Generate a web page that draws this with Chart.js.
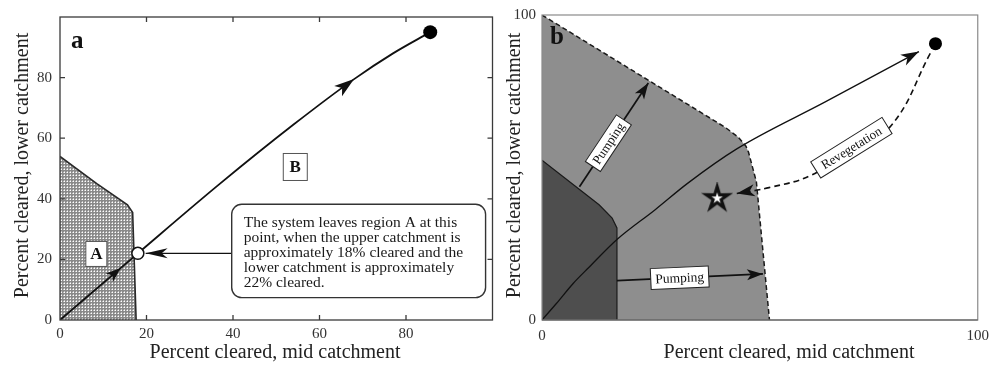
<!DOCTYPE html>
<html>
<head>
<meta charset="utf-8">
<title>Catchment clearing trajectories</title>
<script src="https://cdn.jsdelivr.net/npm/chart.js@4.4.1/dist/chart.umd.min.js"></script>
<style>
  html, body { margin: 0; padding: 0; background: #fff; }
  #stage { position: relative; width: 996px; height: 369px; overflow: hidden; }
  #stage canvas { position: absolute; top: 0; }
  #panelA { left: 0; }
  #panelB { left: 500px; }
</style>
</head>
<body>
<div id="stage">
  <canvas id="panelA" width="500" height="369"></canvas>
  <canvas id="panelB" width="496" height="369"></canvas>
</div>
<script>
const SERIF = "'Liberation Serif', 'Times New Roman', serif";

// ---------- Panel a: percent cleared, mid vs lower catchment ----------
const ticksA = [0, 20, 40, 60, 80];
const regionAX = [0, 8.5, 15.6, 16.8, 17.6];
const regionAY = [54, 45, 38, 35.5, 0];
const pathAX = [0, 18, 37, 54, 68, 77, 85.6];
const pathAY = [0, 22, 45, 64.5, 79.5, 88, 95];
const exitA = [18, 22];
const endA = [85.6, 95];
const calloutX = [39.7, 19.8];
const calloutY = [22, 22];
const calloutLines = [
  'The system leaves region A at this',
  'point, when the upper catchment is',
  'approximately 18% cleared and the',
  'lower catchment is approximately',
  '22% cleared.'
];

// ---------- Panel b ----------
const ticksB = [0, 100];
const outerX = [0, 42, 45, 46.8, 47.4, 49.2, 52.2];
const outerY = [100, 63.2, 60, 57, 55, 45.3, 0];
const innerX = [0, 13.1, 16.1, 17.2, 17.2];
const innerY = [52.4, 37.8, 33.4, 30.2, 0];
const pathBX = [0, 3.3, 7.1, 10.8, 17.2, 25.9, 33.4, 44.7, 65, 86.5];
const pathBY = [0, 5.4, 11.9, 17.3, 26.4, 36.1, 44.8, 56.1, 71.5, 88];
const endB = [90.3, 90.6];
const starB = [40.2, 39.9];
const pumpUpX = [8.6, 24.4];
const pumpUpY = [43.7, 77.7];
const pumpRightX = [17.2, 50.7];
const pumpRightY = [12.9, 15.1];
const revegX = [89.1, 80.1, 71, 62, 52.1, 44.7];
const revegY = [87.4, 63.7, 56.5, 47.6, 43.4, 41.5];

const pts = (xs, ys) => xs.map((x, i) => ({ x, y: ys[i] }));

// fine cross-hatch used for region A
function hatchPattern(ctx) {
  const t = document.createElement('canvas');
  t.width = 3; t.height = 3;
  const g = t.getContext('2d');
  g.fillStyle = '#8a8a8a'; g.fillRect(0, 0, 3, 3);
  g.fillStyle = '#c4c4c4'; g.fillRect(0, 1, 1, 1); g.fillRect(1, 0, 1, 1);
  g.fillStyle = '#ffffff'; g.fillRect(1, 1, 1, 1);
  return ctx.createPattern(t, 'repeat');
}

// hollow five-pointed star used as a point style
function starImage(R, r, lw) {
  const s = Math.ceil(2 * R + lw * 2 + 2);
  const c = document.createElement('canvas');
  c.width = c.height = s;
  const g = c.getContext('2d');
  g.translate(s / 2, s / 2);
  g.beginPath();
  for (let k = 0; k < 10; k++) {
    const rad = k % 2 ? r : R;
    const a = -Math.PI / 2 + k * Math.PI / 5;
    g.lineTo(rad * Math.cos(a), rad * Math.sin(a));
  }
  g.closePath();
  g.fillStyle = '#fff'; g.fill();
  g.lineWidth = lw; g.lineJoin = 'miter'; g.strokeStyle = '#111'; g.stroke();
  return c;
}

function head(ctx, x, y, ang, s) {
  ctx.save();
  ctx.translate(x, y);
  ctx.rotate(ang);
  ctx.beginPath();
  ctx.moveTo(0, 0);
  ctx.lineTo(-s.len, -s.half);
  ctx.lineTo(-s.len + s.notch, 0);
  ctx.lineTo(-s.len, s.half);
  ctx.closePath();
  ctx.fillStyle = '#111';
  ctx.fill();
  ctx.restore();
}

function upright(a) {
  if (a > Math.PI / 2) a -= Math.PI;
  if (a < -Math.PI / 2) a += Math.PI;
  return a;
}

function tagBox(ctx, cx, cy, ang, t) {
  ctx.save();
  ctx.translate(cx, cy);
  ctx.rotate(ang);
  ctx.fillStyle = '#fff';
  ctx.strokeStyle = '#222';
  ctx.lineWidth = 1;
  ctx.fillRect(-t.w / 2, -t.h / 2, t.w, t.h);
  ctx.strokeRect(-t.w / 2, -t.h / 2, t.w, t.h);
  ctx.fillStyle = '#111';
  ctx.font = t.font;
  ctx.textAlign = 'center';
  ctx.textBaseline = 'middle';
  ctx.fillText(t.text, 0, 1);
  ctx.restore();
}

function roundRect(ctx, x, y, w, h, r) {
  ctx.beginPath();
  ctx.moveTo(x + r, y);
  ctx.arcTo(x + w, y, x + w, y + h, r);
  ctx.arcTo(x + w, y + h, x, y + h, r);
  ctx.arcTo(x, y + h, x, y, r);
  ctx.arcTo(x, y, x + w, y, r);
  ctx.closePath();
}

const decor = {
  id: 'decor',
  afterDatasetsDraw(chart, args, o) {
    const ctx = chart.ctx, ca = chart.chartArea;
    const xs = chart.scales.x, ys = chart.scales.y;
    const px = v => xs.getPixelForValue(v), py = v => ys.getPixelForValue(v);

    // frame and inward ticks
    ctx.save();
    ctx.lineWidth = o.frame.width;
    ctx.strokeStyle = o.frame.color;
    ctx.strokeRect(ca.left, ca.top, ca.right - ca.left, ca.bottom - ca.top);
    if (o.frame.bottom) {
      ctx.strokeStyle = o.frame.bottom;
      ctx.beginPath(); ctx.moveTo(ca.left, ca.bottom); ctx.lineTo(ca.right, ca.bottom); ctx.stroke();
    }
    if (o.innerTicks) {
      const L = o.innerTicks.len;
      ctx.strokeStyle = o.frame.color;
      ctx.beginPath();
      o.innerTicks.values.forEach(v => {
        if (v <= 0) return;
        const x = px(v), y = py(v);
        ctx.moveTo(x, ca.bottom); ctx.lineTo(x, ca.bottom - L);
        ctx.moveTo(x, ca.top); ctx.lineTo(x, ca.top + L);
        ctx.moveTo(ca.left, y); ctx.lineTo(ca.left + L, y);
        ctx.moveTo(ca.right, y); ctx.lineTo(ca.right - L, y);
      });
      ctx.stroke();
    }
    ctx.restore();

    // arrowheads and along-line tags
    chart.data.datasets.forEach((ds, i) => {
      const p = chart.getDatasetMeta(i).data;
      if (ds.arrowEnd) {
        const b = p[p.length - 1];
        let ax = p[p.length - 2].x, ay = p[p.length - 2].y;
        if (b.cp1x !== undefined && Math.hypot(b.x - b.cp1x, b.y - b.cp1y) > 0.5) { ax = b.cp1x; ay = b.cp1y; }
        head(ctx, b.x, b.y, Math.atan2(b.y - ay, b.x - ax), ds.arrowEnd);
      }
      (ds.arrowMarks || []).forEach(m => {
        const a = p[m.seg], b = p[m.seg + 1];
        const x = a.x + (b.x - a.x) * m.t, y = a.y + (b.y - a.y) * m.t;
        head(ctx, x, y, Math.atan2(b.y - a.y, b.x - a.x), m);
      });
      if (ds.tag) {
        const t = ds.tag;
        let cx, cy, ang;
        if (t.at !== undefined) {
          const a = p[t.at - 1], b = p[t.at + 1];
          cx = p[t.at].x; cy = p[t.at].y;
          ang = Math.atan2(b.y - a.y, b.x - a.x);
        } else {
          const a = p[0], b = p[1];
          cx = a.x + (b.x - a.x) * t.t; cy = a.y + (b.y - a.y) * t.t;
          ang = Math.atan2(b.y - a.y, b.x - a.x);
        }
        tagBox(ctx, cx, cy, upright(ang), t);
      }
    });

    // boxed region labels
    (o.boxes || []).forEach(b => {
      const cx = px(b.x), cy = py(b.y);
      ctx.save();
      ctx.fillStyle = '#fff';
      ctx.strokeStyle = '#555';
      ctx.lineWidth = 1;
      ctx.fillRect(cx - b.w / 2, cy - b.h / 2, b.w, b.h);
      ctx.strokeRect(cx - b.w / 2, cy - b.h / 2, b.w, b.h);
      ctx.fillStyle = '#111';
      ctx.font = b.font;
      ctx.textAlign = 'center';
      ctx.textBaseline = 'middle';
      ctx.fillText(b.text, cx, cy + 1);
      ctx.restore();
    });

    // rounded callout
    if (o.note) {
      const n = o.note;
      const x1 = px(n.x1), y1 = py(n.y1), x2 = px(n.x2), y2 = py(n.y2);
      ctx.save();
      roundRect(ctx, x1, y1, x2 - x1, y2 - y1, n.r);
      ctx.fillStyle = '#fff';
      ctx.fill();
      ctx.lineWidth = 1.4;
      ctx.strokeStyle = '#333';
      ctx.stroke();
      ctx.fillStyle = '#1a1a1a';
      ctx.font = n.font;
      ctx.textAlign = 'left';
      ctx.textBaseline = 'middle';
      n.lines.forEach((s, k) => ctx.fillText(s, x1 + n.padX, y1 + n.padTop + k * n.lh));
      ctx.restore();
    }

    // panel letter
    if (o.letter) {
      ctx.save();
      ctx.fillStyle = '#111';
      ctx.font = 'bold 25px ' + SERIF;
      ctx.textAlign = 'left';
      ctx.textBaseline = 'alphabetic';
      ctx.fillText(o.letter.text, ca.left + o.letter.dx, ca.top + o.letter.dy);
      ctx.restore();
    }
  },
  afterDraw(chart, args, o) {
    const ctx = chart.ctx;
    (o.titles || []).forEach(t => {
      ctx.save();
      ctx.translate(t.x, t.y);
      ctx.rotate(t.rot * Math.PI / 180);
      ctx.fillStyle = '#222';
      ctx.font = '20px ' + SERIF;
      ctx.textAlign = 'center';
      ctx.textBaseline = 'middle';
      ctx.fillText(t.text, 0, 0);
      ctx.restore();
    });
  }
};

function axes(ticks, step, w, h, yPad, xPad) {
  const tickFont = { family: SERIF, size: 15 };
  const show = v => ticks.includes(v) ? String(v) : '';
  return {
    x: {
      type: 'linear', min: 0, max: 100,
      afterFit(s) { s.height = h; },
      grid: { display: false, drawTicks: false },
      border: { display: false },
      ticks: { stepSize: step, padding: xPad, font: tickFont, color: '#333', maxRotation: 0, autoSkip: false, callback: show }
    },
    y: {
      type: 'linear', min: 0, max: 100,
      afterFit(s) { s.width = w; },
      grid: { display: false, drawTicks: false },
      border: { display: false },
      ticks: { stepSize: step, padding: yPad, font: tickFont, color: '#333', autoSkip: false, callback: show }
    }
  };
}

const line = (data, extra) => Object.assign({
  type: 'line', data, pointRadius: 0, fill: false, tension: 0,
  borderColor: '#111', borderWidth: 1.5
}, extra);

const dot = (xy, extra) => Object.assign({
  type: 'line', data: [{ x: xy[0], y: xy[1] }], showLine: false,
  pointRadius: 7, pointBackgroundColor: '#000', pointBorderColor: '#000', pointBorderWidth: 0
}, extra);

// ---------- chart a ----------
const ctxA = document.getElementById('panelA').getContext('2d');
new Chart(ctxA, {
  type: 'line',
  data: {
    datasets: [
      line(pts(regionAX, regionAY), { fill: 'origin', backgroundColor: hatchPattern(ctxA), borderColor: '#2a2a2a', borderWidth: 1.6, order: 10 }),
      line(pts(pathAX, pathAY), { borderWidth: 1.8, cubicInterpolationMode: 'monotone', order: 5,
        arrowMarks: [{ seg: 0, t: 0.78, len: 15, half: 5.5, notch: 4 }, { seg: 3, t: 1, len: 20, half: 6.5, notch: 5 }] }),
      line(pts(calloutX, calloutY), { borderWidth: 1.1, order: 4, arrowEnd: { len: 22, half: 5, notch: 6 } }),
      dot(exitA, { pointRadius: 6, pointBackgroundColor: '#fff', pointBorderColor: '#111', pointBorderWidth: 1.5, order: 1 }),
      dot(endA, { pointRadius: 7, order: 0 })
    ]
  },
  options: {
    responsive: false, animation: false, events: [],
    layout: { padding: { left: 0, top: 11, right: 3, bottom: 0 } },
    scales: axes(ticksA, 20, 60, 49, 8, 5),
    plugins: {
      legend: { display: false }, tooltip: { enabled: false },
      decor: {
        frame: { color: '#3a3a3a', width: 1.3 },
        innerTicks: { values: ticksA, len: 5 },
        letter: { text: 'a', dx: 11, dy: 31 },
        boxes: [
          { text: 'A', x: 8.4, y: 21.8, w: 21, h: 25, font: 'bold 17px ' + SERIF },
          { text: 'B', x: 54.4, y: 50.5, w: 24, h: 27, font: 'bold 17px ' + SERIF }
        ],
        note: { x1: 39.7, y1: 38.2, x2: 98.4, y2: 7.4, r: 10, lines: calloutLines,
                font: '15.5px ' + SERIF, lh: 15, padX: 12, padTop: 19 },
        titles: [
          { text: 'Percent cleared, mid catchment', x: 275, y: 353, rot: 0 },
          { text: 'Percent cleared, lower catchment', x: 23, y: 165.5, rot: -90 }
        ]
      }
    }
  },
  plugins: [decor]
});

// ---------- chart b ----------
const ctxB = document.getElementById('panelB').getContext('2d');
new Chart(ctxB, {
  type: 'line',
  data: {
    datasets: [
      line(pts(outerX, outerY), { fill: 'origin', backgroundColor: '#8e8e8e', borderColor: '#1a1a1a', borderWidth: 1.5, borderDash: [5, 3], order: 10 }),
      line(pts(innerX, innerY), { fill: 'origin', backgroundColor: '#4e4e4e', borderColor: '#1a1a1a', borderWidth: 1.2, order: 9 }),
      line(pts(pathBX, pathBY), { borderWidth: 1.3, cubicInterpolationMode: 'monotone', order: 5,
        arrowEnd: { len: 18, half: 6, notch: 5 } }),
      line(pts(pumpUpX, pumpUpY), { borderWidth: 1.7, order: 4, arrowEnd: { len: 16, half: 5.5, notch: 4 },
        tag: { text: 'Pumping', t: 0.42, w: 56, h: 18, font: '13px ' + SERIF } }),
      line(pts(pumpRightX, pumpRightY), { borderWidth: 1.7, order: 4, arrowEnd: { len: 16, half: 5.5, notch: 4 },
        tag: { text: 'Pumping', t: 0.43, w: 58, h: 21, font: '13.5px ' + SERIF } }),
      line(pts(revegX, revegY), { borderWidth: 1.6, borderDash: [6, 4], tension: 0.4, order: 4,
        arrowEnd: { len: 18, half: 6, notch: 5 },
        tag: { text: 'Revegetation', at: 2, w: 84, h: 19, font: '13px ' + SERIF } }),
      dot(starB, { pointStyle: starImage(11.5, 4.2, 3.2), pointRadius: 12, order: 1 }),
      dot(endB, { pointRadius: 6.5, order: 0 })
    ]
  },
  options: {
    responsive: false, animation: false, events: [],
    layout: { padding: { left: 0, top: 11, right: 11, bottom: 0 } },
    scales: axes(ticksB, 100, 42, 49, 6, 7),
    plugins: {
      legend: { display: false }, tooltip: { enabled: false },
      decor: {
        frame: { color: '#8a8a8a', width: 1.2, bottom: '#555' },
        letter: { text: 'b', dx: 8, dy: 29 },
        titles: [
          { text: 'Percent cleared, mid catchment', x: 289, y: 353, rot: 0 },
          { text: 'Percent cleared, lower catchment', x: 15, y: 165.5, rot: -90 }
        ]
      }
    }
  },
  plugins: [decor]
});
</script>
</body>
</html>
